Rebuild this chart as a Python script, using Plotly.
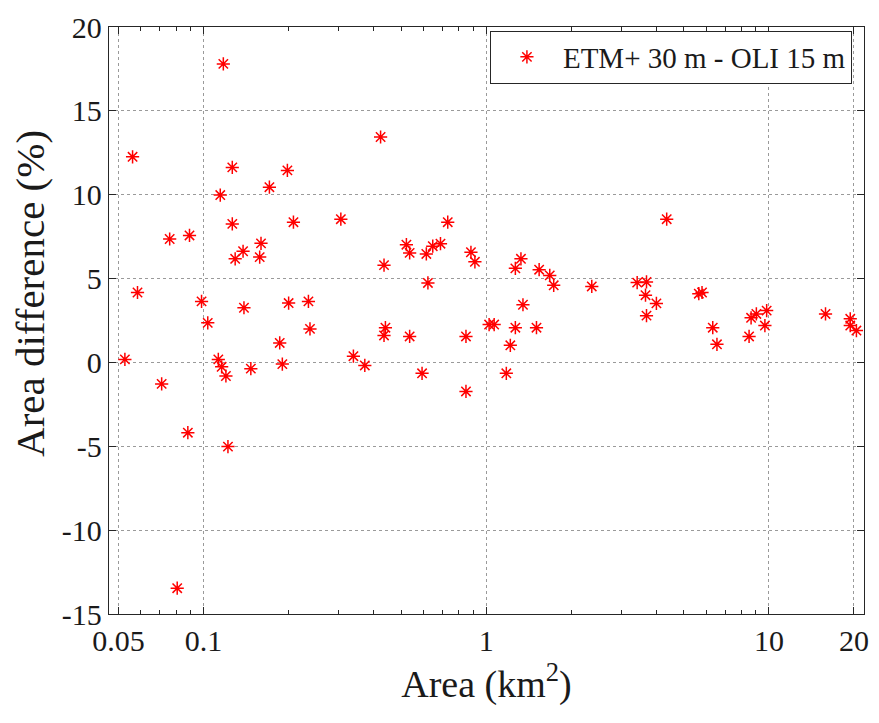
import math
import plotly.graph_objects as go

# Data
area_km2 = [0.1175, 0.0561, 0.1264, 0.198, 0.171, 0.1146, 0.1264, 0.208, 0.306, 0.0759,
            0.0892, 0.1597, 0.138, 0.1294, 0.158, 0.0584, 0.0984, 0.139, 0.200, 0.235,
            0.1035, 0.238, 0.186, 0.0527, 0.1128, 0.1159, 0.120, 0.147, 0.190, 0.339,
            0.372, 0.0711, 0.088, 0.122, 0.0807, 0.423, 0.731, 0.522, 0.536, 0.614,
            0.647, 0.689, 0.883, 0.912, 0.435, 0.622, 1.268, 1.327, 1.539, 1.678,
            1.733, 2.363, 1.349, 0.440, 0.435, 0.536, 0.848, 1.024, 1.067, 1.268,
            1.506, 1.217, 0.593, 1.178, 0.848, 4.35, 3.42, 3.69, 3.66, 4.0,
            3.69, 5.65, 5.80, 8.65, 9.03, 9.82, 15.86, 19.4, 6.33, 6.55,
            8.51, 9.68, 19.4, 20.4]
area_diff_pct = [17.8, 12.26, 11.63, 11.45, 10.45, 9.98, 8.26, 8.36, 8.54, 7.36,
                 7.57, 7.10, 6.63, 6.18, 6.28, 4.17, 3.64, 3.26, 3.54, 3.64,
                 2.36, 2.0, 1.16, 0.18, 0.18, -0.26, -0.81, -0.37, -0.1, 0.37,
                 -0.18, -1.28, -4.19, -5.02, -13.46, 13.44, 8.36, 7.02, 6.53, 6.47,
                 6.93, 7.08, 6.57, 6.0, 5.8, 4.74, 5.61, 6.18, 5.53, 5.19,
                 4.6, 4.53, 3.44, 2.07, 1.61, 1.55, 1.55, 2.26, 2.26, 2.07,
                 2.07, 1.02, -0.65, -0.65, -1.73, 8.54, 4.76, 4.80, 4.01, 3.52,
                 2.79, 4.1, 4.17, 2.66, 2.89, 3.09, 2.89, 2.6, 2.07, 1.08,
                 1.55, 2.2, 2.2, 1.9]

series_name = "ETM+ 30 m - OLI 15 m"
x_title = "Area (km<sup>2</sup>)"
y_title = "Area difference (%)"
x_tickvals = [0.05, 0.1, 1, 10, 20]
x_ticktext = ["0.05", "0.1", "1", "10", "20"]
x_minor = [0.06, 0.07, 0.08, 0.09, 0.2, 0.3, 0.4, 0.5, 0.6, 0.7, 0.8, 0.9,
           2, 3, 4, 5, 6, 7, 8, 9]
y_tickvals = [-15, -10, -5, 0, 5, 10, 15, 20]
y_ticktext = ["-15", "-10", "-5", "0", "5", "10", "15", "20"]

FONT = "Liberation Serif"
AX = "#262626"
TXT = "#1a1a1a"
GRID = "#9a9a9a"

fig = go.Figure()
fig.add_trace(go.Scatter(
    x=area_km2, y=area_diff_pct, mode="markers", name=series_name,
    marker=dict(symbol="asterisk-open", size=11, color="red",
                line=dict(color="red", width=1.5)),
))

fig.update_layout(
    width=879, height=723,
    margin=dict(l=109, r=10, t=20, b=109),
    paper_bgcolor="white", plot_bgcolor="white",
    font=dict(family=FONT, color=TXT),
    showlegend=True,
    legend=dict(
        x=0.984, y=0.994, xanchor="right", yanchor="top",
        bordercolor=AX, borderwidth=1, bgcolor="white",
        font=dict(family=FONT, size=29, color=TXT),
        itemwidth=62,
    ),
    annotations=[dict(
        text=y_title, textangle=-90, showarrow=False,
        xref="paper", yref="paper", x=-0.104, y=0.546,
        xanchor="center", yanchor="middle",
        font=dict(family=FONT, size=41, color=TXT),
    )],
)
fig.update_xaxes(
    type="log",
    range=[math.log10(0.0463), math.log10(21.7)],
    tickmode="array", tickvals=x_tickvals, ticktext=x_ticktext,
    ticks="inside", ticklen=7, tickwidth=1, tickcolor=AX,
    showline=True, linecolor=AX, linewidth=1.3, mirror="ticks",
    showgrid=True, gridcolor=GRID, griddash="dot", gridwidth=1,
    zeroline=False,
    tickfont=dict(family=FONT, size=30, color=TXT),
    minor=dict(tickmode="array", tickvals=x_minor, ticks="inside",
               ticklen=3.5, tickwidth=1, tickcolor=AX, showgrid=False),
    title=dict(text=x_title,
               font=dict(family=FONT, size=38, color=TXT), standoff=12),
)
fig.update_yaxes(
    range=[-15, 20],
    tickmode="array", tickvals=y_tickvals, ticktext=y_ticktext,
    ticks="inside", ticklen=7, tickwidth=1, tickcolor=AX,
    showline=True, linecolor=AX, linewidth=1.3, mirror="ticks",
    showgrid=True, gridcolor=GRID, griddash="dot", gridwidth=1,
    zeroline=False,
    tickfont=dict(family=FONT, size=30, color=TXT),
)

fig.write_html("out.html")
